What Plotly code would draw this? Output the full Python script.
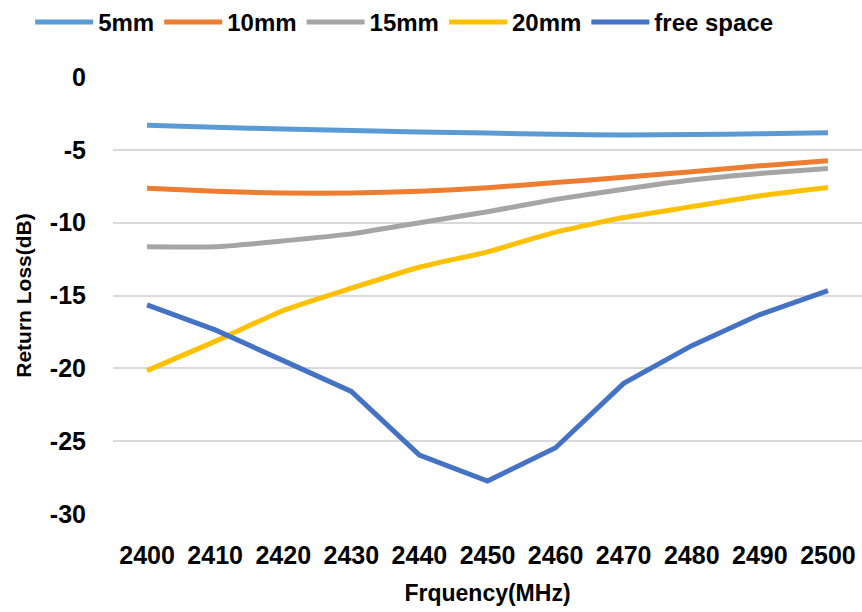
import plotly.graph_objects as go

freq = ["2400", "2410", "2420", "2430", "2440", "2450", "2460", "2470", "2480", "2490", "2500"]
s5mm = [-3.32, -3.45, -3.57, -3.68, -3.77, -3.85, -3.93, -3.98, -3.95, -3.9, -3.83]
s10mm = [-7.63, -7.85, -7.97, -7.97, -7.85, -7.6, -7.25, -6.88, -6.5, -6.1, -5.75]
s15mm = [-11.66, -11.66, -11.25, -10.77, -10.0, -9.25, -8.4, -7.7, -7.07, -6.62, -6.28]
s20mm = [-20.16, -18.15, -16.03, -14.5, -13.06, -12.0, -10.65, -9.65, -8.9, -8.15, -7.58]
free_space = [-15.65, -17.36, -19.47, -21.58, -25.95, -27.74, -25.45, -21.03, -18.44, -16.31, -14.66]

y_tickvals = [0, -5, -10, -15, -20, -25, -30]
y_ticktext = ["0", "-5", "-10", "-15", "-20", "-25", "-30"]

series = [
    ("5mm", s5mm, "#5B9BD5", "spline"),
    ("10mm", s10mm, "#ED7D31", "spline"),
    ("15mm", s15mm, "#A5A5A5", "spline"),
    ("20mm", s20mm, "#FFC000", "spline"),
    ("free space", free_space, "#4472C4", "linear"),
]

font_family = "Liberation Sans, Arial, sans-serif"

fig = go.Figure()
for name, vals, color, shape in series:
    fig.add_trace(go.Scatter(
        x=freq, y=vals, name=name, mode="lines",
        line=dict(color=color, width=5, shape=shape, smoothing=0.5),
    ))

fig.update_layout(
    width=862, height=612,
    margin=dict(l=113, r=0, t=77, b=98, autoexpand=False),
    paper_bgcolor="white", plot_bgcolor="white",
    font=dict(family=font_family, color="black"),
    legend=dict(
        orientation="h", xref="container", yref="container",
        x=0.035, xanchor="left", y=1.0, yanchor="top",
        font=dict(size=24, family=font_family, weight="bold"),
        itemwidth=58, tracegroupgap=0,
    ),
    showlegend=True,
)

fig.update_xaxes(
    type="category", range=[-0.5, 10.5], automargin=False,
    showgrid=False, showline=False, zeroline=False, ticks="",
    tickfont=dict(size=25, family=font_family, weight="bold"),
    ticklabelstandoff=24,
    title=dict(text="Frquency(MHz)", font=dict(size=23, family=font_family, weight="bold"), standoff=16),
)
fig.update_yaxes(
    range=[-30, 0], tickvals=y_tickvals, ticktext=y_ticktext, automargin=False,
    showgrid=True, gridcolor="#D9D9D9", gridwidth=1.5,
    showline=False, zeroline=False, ticks="",
    tickfont=dict(size=25, family=font_family, weight="bold"),
    ticklabelstandoff=26,
    title=dict(text="Return Loss(dB)", font=dict(size=21, family=font_family, weight="bold"), standoff=12),
)

fig.write_html(
    "out.html",
    config={"displayModeBar": False},
    post_script="document.body.style.margin='0px';document.body.style.overflow='hidden';",
)
